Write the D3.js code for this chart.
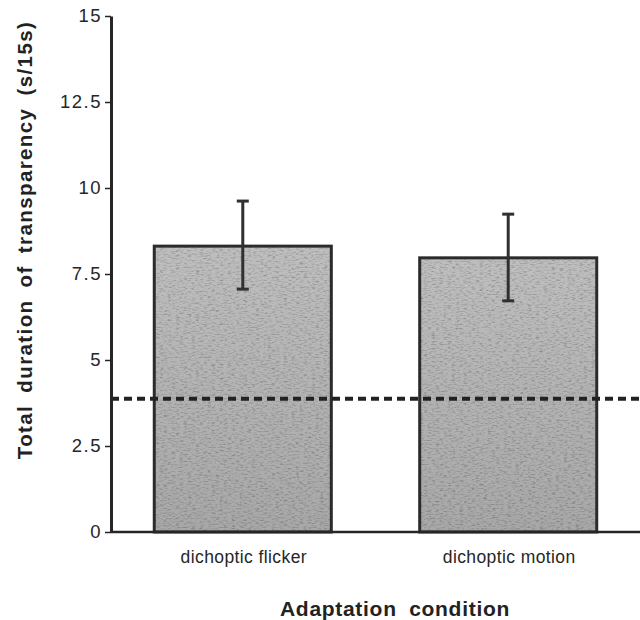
<!DOCTYPE html>
<html>
<head>
<meta charset="utf-8">
<title>Transparency duration</title>
<script src="https://cdn.jsdelivr.net/npm/d3@7"></script>
<style>
  html, body { margin: 0; background: #fff; }
  svg { display: block; font-family: "Liberation Sans", Arial, sans-serif; }
</style>
</head>
<body>
<svg width="640" height="620"></svg>
<script>
// values
var categories = ["dichoptic flicker", "dichoptic motion"];
var means = [8.31, 7.97];
var errLow = [7.06, 6.72];
var errHigh = [9.62, 9.24];
var baseline = 3.87;
var yTicks = [0, 2.5, 5, 7.5, 10, 12.5, 15];

var svg = d3.select("svg");
var axisX = 111, right = 640;

var x = d3.scaleBand().domain(categories).range([axisX, right])
    .paddingInner(0.333).paddingOuter(0.163);
var y = d3.scaleLinear().domain([0, 15]).range([532, 16]);

var data = categories.map(function(c, i) {
  return {cat: c, mean: means[i], lo: errLow[i], hi: errHigh[i]};
});
function mid(c) { return x(c) + x.bandwidth() / 2; }

// grainy gray fill like the scan
var defs = svg.append("defs");
var grad = defs.append("linearGradient").attr("id", "barFill")
    .attr("x1", 0).attr("y1", 0).attr("x2", 0).attr("y2", 1);
grad.append("stop").attr("offset", "0%").attr("stop-color", "#bfbfbf");
grad.append("stop").attr("offset", "100%").attr("stop-color", "#a8a8a8");

var f = defs.append("filter").attr("id", "grain")
    .attr("x", 0).attr("y", 0).attr("width", 1).attr("height", 1);
f.append("feTurbulence").attr("type", "fractalNoise")
    .attr("baseFrequency", "0.25 0.7").attr("numOctaves", 2).attr("seed", 5).attr("result", "noise");
f.append("feColorMatrix").attr("in", "noise").attr("type", "matrix")
    .attr("values", "0 0 0 0 0  0 0 0 0 0  0 0 0 0 0  0 0 0 -1.1 0.6").attr("result", "dots");
f.append("feComposite").attr("in", "dots").attr("in2", "SourceGraphic")
    .attr("operator", "in").attr("result", "dotsIn");
f.append("feMerge").selectAll("feMergeNode")
    .data(["SourceGraphic", "dotsIn"]).enter().append("feMergeNode")
    .attr("in", function(d) { return d; });

// bars
svg.selectAll(".bar").data(data).enter().append("rect")
    .attr("class", "bar")
    .attr("x", function(d) { return x(d.cat); })
    .attr("y", function(d) { return y(d.mean); })
    .attr("width", x.bandwidth())
    .attr("height", function(d) { return y(0) - y(d.mean); })
    .attr("fill", "url(#barFill)")
    .attr("filter", "url(#grain)");

svg.selectAll(".barEdge").data(data).enter().append("rect")
    .attr("class", "barEdge")
    .attr("x", function(d) { return x(d.cat); })
    .attr("y", function(d) { return y(d.mean); })
    .attr("width", x.bandwidth())
    .attr("height", function(d) { return y(0) - y(d.mean); })
    .attr("fill", "none")
    .attr("stroke", "#2b2b2b")
    .attr("stroke-width", 3);

// dashed chance line
svg.append("line")
    .attr("x1", axisX).attr("x2", right)
    .attr("y1", y(baseline)).attr("y2", y(baseline))
    .attr("stroke", "#222")
    .attr("stroke-width", 4)
    .attr("stroke-dasharray", "8,5");

// error bars
var eb = svg.selectAll(".err").data(data).enter().append("g").attr("class", "err")
    .attr("stroke", "#303030").attr("stroke-width", 3);
eb.append("line")
    .attr("x1", function(d) { return mid(d.cat); })
    .attr("x2", function(d) { return mid(d.cat); })
    .attr("y1", function(d) { return y(d.lo); })
    .attr("y2", function(d) { return y(d.hi); });
eb.selectAll(".cap").data(function(d) {
    return [{cat: d.cat, v: d.lo}, {cat: d.cat, v: d.hi}];
  }).enter().append("line")
    .attr("x1", function(d) { return mid(d.cat) - 6; })
    .attr("x2", function(d) { return mid(d.cat) + 6; })
    .attr("y1", function(d) { return y(d.v); })
    .attr("y2", function(d) { return y(d.v); });

// x baseline
svg.append("line")
    .attr("x1", axisX).attr("x2", right)
    .attr("y1", y(0)).attr("y2", y(0))
    .attr("stroke", "#262626").attr("stroke-width", 2.5);

// y axis
var yAxis = svg.append("g")
    .attr("transform", "translate(" + axisX + ",0)")
    .call(d3.axisLeft(y).tickValues(yTicks).tickSize(6).tickSizeOuter(0)
      .tickPadding(3).tickFormat(function(d) { return d; }));
yAxis.select(".domain").attr("stroke", "#262626").attr("stroke-width", 3);
yAxis.selectAll(".tick line").attr("stroke", "#262626").attr("stroke-width", 1.5);
yAxis.selectAll(".tick text")
    .attr("font-size", 18.5)
    .attr("font-family", "'Liberation Sans', Arial, sans-serif")
    .attr("letter-spacing", 1.5)
    .attr("fill", "#262626");

// category labels
svg.selectAll(".catLabel").data(categories).enter().append("text")
    .attr("class", "catLabel")
    .attr("x", function(d) { return mid(d) + 1; })
    .attr("y", 563)
    .attr("text-anchor", "middle")
    .attr("font-size", 17.5)
    .attr("letter-spacing", 0.4)
    .attr("fill", "#262626")
    .text(function(d) { return d; });

// axis titles
svg.append("text")
    .attr("x", 395).attr("y", 616)
    .attr("text-anchor", "middle")
    .attr("font-size", 21).attr("font-weight", "bold")
    .attr("letter-spacing", 0.7).attr("word-spacing", 6)
    .attr("fill", "#222")
    .text("Adaptation condition");

svg.append("text")
    .attr("transform", "translate(32,240) rotate(-90)")
    .attr("text-anchor", "middle")
    .attr("font-size", 20.5).attr("font-weight", "bold")
    .attr("letter-spacing", 1.4).attr("word-spacing", 5)
    .attr("fill", "#222")
    .text("Total duration of transparency (s/15s)");
</script>
</body>
</html>
